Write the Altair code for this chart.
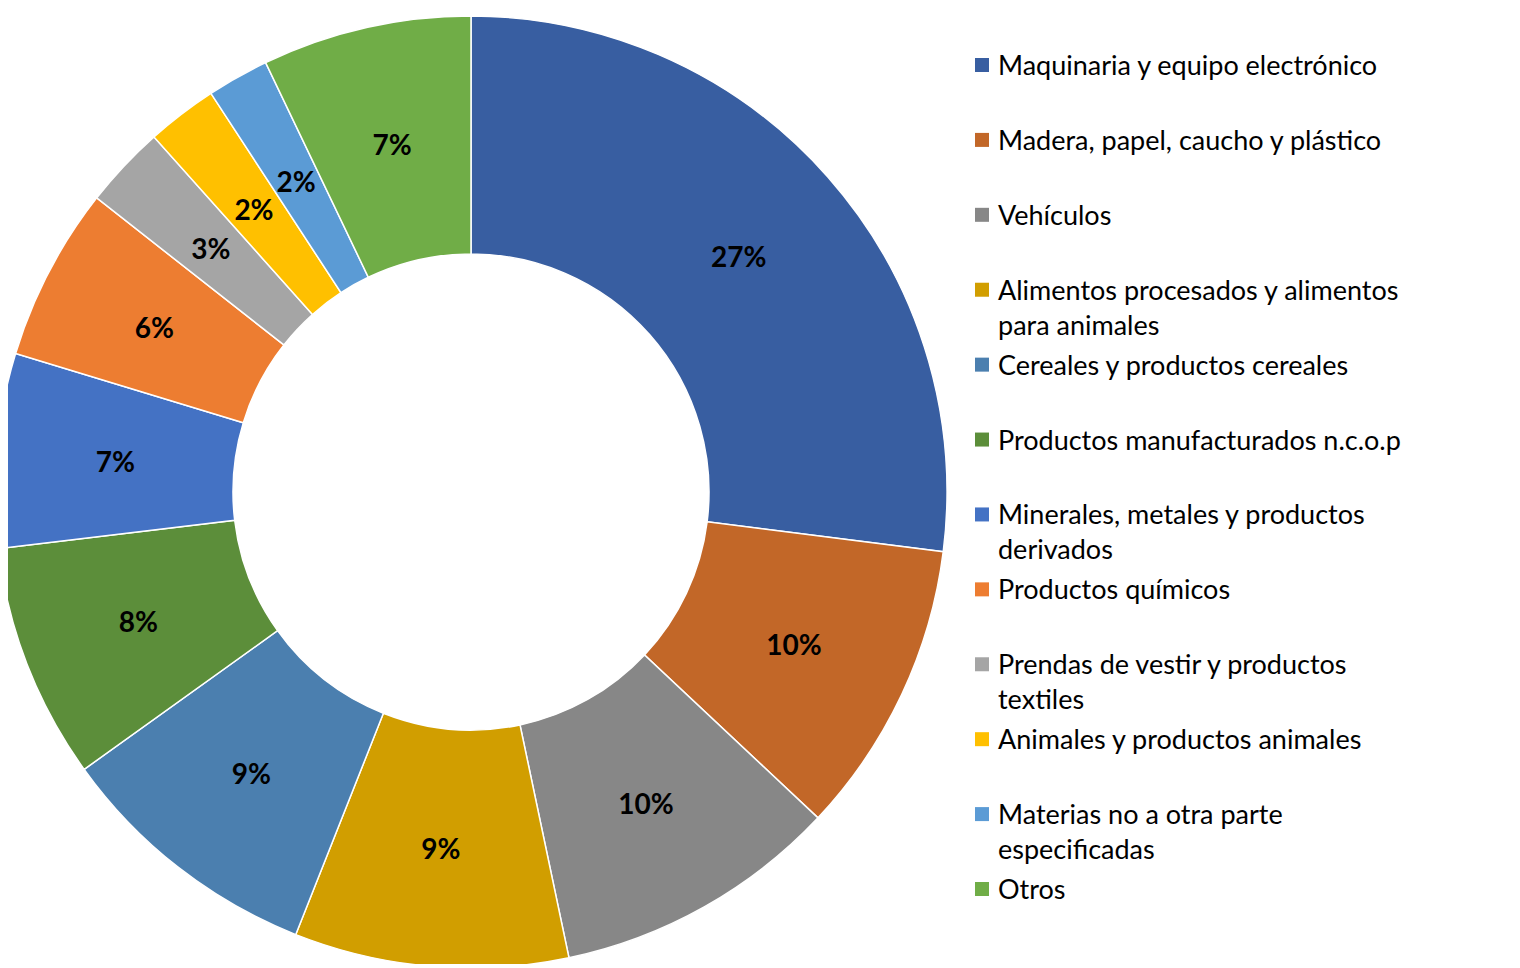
import altair as alt
import pandas as pd

categories = [
    "Maquinaria y equipo electrónico",
    "Madera, papel, caucho y plástico",
    "Vehículos",
    "Alimentos procesados y alimentos para animales",
    "Cereales y productos cereales",
    "Productos manufacturados n.c.o.p",
    "Minerales, metales y productos derivados",
    "Productos químicos",
    "Prendas de vestir y productos textiles",
    "Animales y productos animales",
    "Materias no a otra parte especificadas",
    "Otros",
]
legend_line1 = [
    "Maquinaria y equipo electrónico",
    "Madera, papel, caucho y plástico",
    "Vehículos",
    "Alimentos procesados y alimentos",
    "Cereales y productos cereales",
    "Productos manufacturados n.c.o.p",
    "Minerales, metales y productos",
    "Productos químicos",
    "Prendas de vestir y productos",
    "Animales y productos animales",
    "Materias no a otra parte",
    "Otros",
]
legend_line2 = ["", "", "", "para animales", "", "", "derivados", "", "textiles", "", "especificadas", ""]
values = [27.0, 10.0, 9.7, 9.3, 9.1, 8.0, 6.6, 5.9, 2.8, 2.4, 2.1, 7.1]
pct_labels = ["27%", "10%", "10%", "9%", "9%", "8%", "7%", "6%", "3%", "2%", "2%", "7%"]
colors = [
    "#385EA1", "#C26728", "#878787", "#D19E00", "#4B7FAF", "#5C8E3A",
    "#4472C4", "#ED7D31", "#A5A5A5", "#FFC000", "#5B9BD5", "#70AD47",
]

FONT = "Lato"

df = pd.DataFrame({
    "cat": categories,
    "value": values,
    "label": pct_labels,
    "idx": list(range(len(categories))),
    "line1": legend_line1,
    "line2": legend_line2,
})

color = alt.Color("cat:N", scale=alt.Scale(domain=categories, range=colors), legend=None)
cx, cy = 463, 484

base = alt.Chart(df).encode(
    theta=alt.Theta("value:Q", stack=True),
    order=alt.Order("idx:Q"),
    x=alt.value(cx),
    y=alt.value(cy),
)

arcs = base.mark_arc(innerRadius=238, outerRadius=476, stroke="white", strokeWidth=1.5).encode(color=color)
texts = base.mark_text(radius=357, font=FONT, fontSize=28, fontWeight="bold", color="black", dy=3).encode(
    text="label:N"
)

ypos = alt.Y("idx:Q", scale=alt.Scale(domain=[0, 11], range=[57, 881]), axis=None)
leg = alt.Chart(df)
squares = leg.mark_square(size=196, opacity=1).encode(x=alt.value(974), y=ypos, color=color)
l1 = leg.mark_text(align="left", baseline="middle", font=FONT, fontSize=27, color="black", dy=2).encode(
    x=alt.value(990), y=ypos, text="line1:N"
)
l2 = leg.mark_text(align="left", baseline="middle", font=FONT, fontSize=27, color="black", dy=37).encode(
    x=alt.value(990), y=ypos, text="line2:N"
)

chart = alt.layer(arcs, texts, squares, l1, l2).properties(
    width=1500, height=956, padding=0,
    autosize=alt.AutoSizeParams(type="none"),
).configure_view(stroke=None)

chart.save("out.html", embed_options={"renderer": "svg", "actions": False})
